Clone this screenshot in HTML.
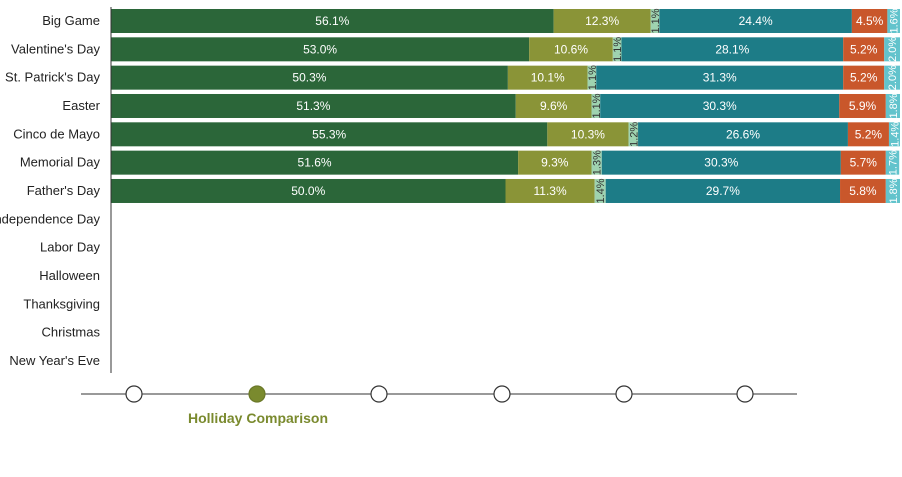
<!DOCTYPE html>
<html><head><meta charset="utf-8"><style>
body{margin:0;background:#fff;width:902px;height:472px;overflow:hidden;font-family:"Liberation Sans",sans-serif}
</style></head><body>
<svg id="c" width="902" height="472"></svg>
<script>
const categories=["Big Game","Valentine's Day","St. Patrick's Day","Easter","Cinco de Mayo","Memorial Day","Father's Day","Independence Day","Labor Day","Halloween","Thanksgiving","Christmas","New Year's Eve"];
const s1=[56.1,53.0,50.3,51.3,55.3,51.6,50.0];
const s2=[12.3,10.6,10.1,9.6,10.3,9.3,11.3];
const s3=[1.1,1.1,1.1,1.1,1.2,1.3,1.4];
const s4=[24.4,28.1,31.3,30.3,26.6,30.3,29.7];
const s5=[4.5,5.2,5.2,5.9,5.2,5.7,5.8];
const s6=[1.6,2.0,2.0,1.8,1.4,1.7,1.8];
const series=[s1,s2,s3,s4,s5,s6];
const colors=["#2b6639","#8a9437","#9fd3b0","#1d7c87","#c9572b","#62c3cc"];
const textColors=["#fff","#fff","#333","#fff","#fff","#fff"];
const NS="http://www.w3.org/2000/svg";
const svg=document.getElementById('c');
const x0=111,pxPer=7.89,rowTop=8,step=28.33,barH=24;
const xs=v=>v*pxPer;
const ys=i=>rowTop+i*step;
function mk(t,a){const e=document.createElementNS(NS,t);for(const k in a)e.setAttribute(k,a[k]);svg.appendChild(e);return e;}
categories.forEach((c,i)=>{
 const t=mk('text',{x:100,y:ys(i)+barH/2+5,'text-anchor':'end','font-size':13,fill:'#222'});
 t.textContent=c;
 
 
});
for(let i=0;i<s1.length;i++){
 let acc=0;
 series.forEach((s,k)=>{
  const v=s[i];const x=x0+xs(acc),w=xs(v),y=ys(i)+1;
  const r=mk('rect',{x:x,y:y,width:w,height:barH,fill:colors[k]});
  
  
  const cx=x+w/2,cy=y+barH/2;
  const t=mk('text',{x:cx,y:cy+4,'text-anchor':'middle','font-size':12,fill:textColors[k]});
  if(w<22){t.setAttribute('transform','rotate(-90 '+cx+' '+cy+')');t.setAttribute('font-size',11);}
  t.textContent=v.toFixed(1)+'%';
  
  
  acc+=v;
 });
}
const ax=mk('line',{x1:x0,y1:7,x2:x0,y2:373,stroke:'#333','stroke-width':1});


const tl=mk('line',{x1:81,y1:394,x2:797,y2:394,stroke:'#333','stroke-width':1});


const dots=[134,257,379,502,624,745];
dots.forEach((d,i)=>{
 const c=mk('circle',{cx:d,cy:394,r:8,fill:i==1?'#7a8a2e':'#fff',stroke:i==1?'#6a7828':'#333','stroke-width':1.2});
 
 
});
const lab=mk('text',{x:258,y:423,'text-anchor':'middle','font-size':14,'font-weight':'bold',fill:'#7a8a2e'});
lab.textContent='Holliday Comparison';


</script>
</body></html>
